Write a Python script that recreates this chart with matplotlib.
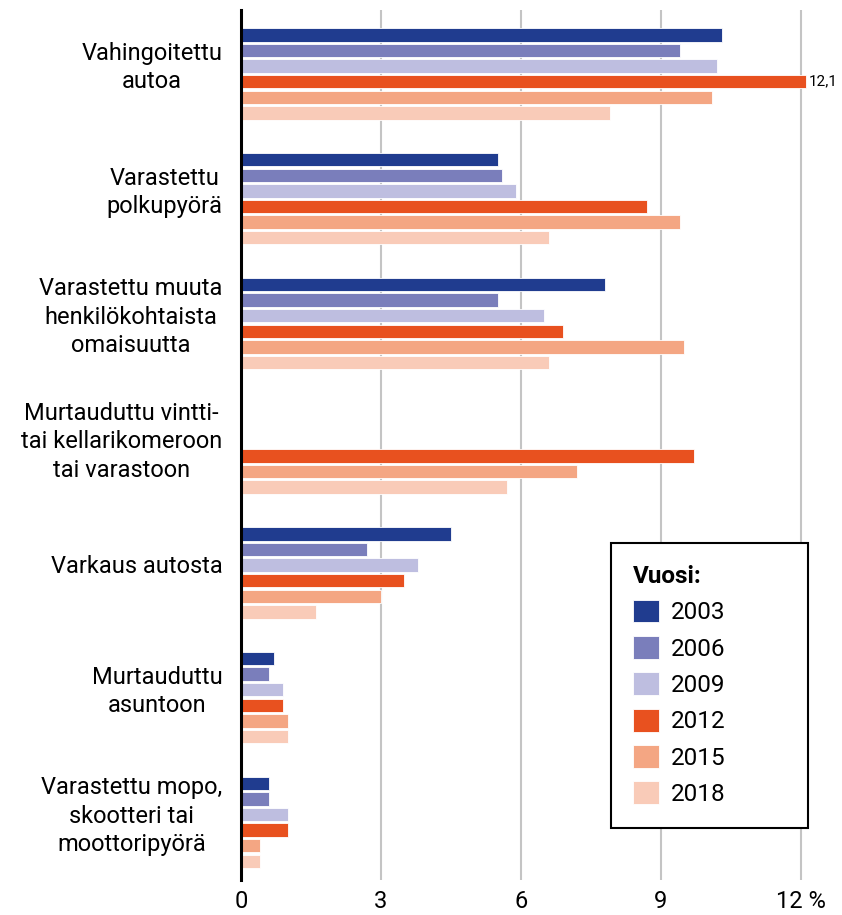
"""
Rikosuhrikokemukset vuosittain: vaakapylväskuvio.
"""
import numpy as np
import matplotlib.pyplot as plt
from matplotlib.patches import Patch
from matplotlib.transforms import blended_transform_factory

plt.rcParams['font.family'] = ['Roboto', 'DejaVu Sans']

# Data (%)
categories = [
    'Vahingoitettu\nautoa',
    'Varastettu\npolkupyörä',
    'Varastettu muuta\nhenkilökohtaista\nomaisuutta',
    'Murtauduttu vintti-\ntai kellarikomeroon\ntai varastoon',
    'Varkaus autosta',
    'Murtauduttu\nasuntoon',
    'Varastettu mopo,\nskootteri tai\nmoottoripyörä',
]
years = ['2003', '2006', '2009', '2012', '2015', '2018']
v2003 = [10.3, 5.5, 7.8, np.nan, 4.5, 0.7, 0.6]
v2006 = [9.4, 5.6, 5.5, np.nan, 2.7, 0.6, 0.6]
v2009 = [10.2, 5.9, 6.5, np.nan, 3.8, 0.9, 1.0]
v2012 = [12.1, 8.7, 6.9, 9.7, 3.5, 0.9, 1.0]
v2015 = [10.1, 9.4, 9.5, 7.2, 3.0, 1.0, 0.4]
v2018 = [7.9, 6.6, 6.6, 5.7, 1.6, 1.0, 0.4]
series = [v2003, v2006, v2009, v2012, v2015, v2018]
xticks = [0, 3, 6, 9, 12]
xticklabels = ['0', '3', '6', '9', '12 %']

colors = ['#203c8f', '#7a7ebb', '#bebee0', '#e8511f', '#f4a683', '#f9cbb8']

fig = plt.figure(figsize=(8.42, 9.15), dpi=100)
ax = fig.add_axes([0.2862, 0.0383, 0.9596 - 0.2862, 0.989 - 0.0383])

group_pitch = 8
n_groups = len(categories)
for j, (vals, col) in enumerate(zip(series, colors)):
    ypos = np.arange(n_groups) * group_pitch + j
    ax.barh(ypos, vals, height=0.86, color=col, edgecolor='white',
            linewidth=0.6, zorder=2)

# value label for the bar over the axis limit
ax.text(v2012[0] + 0.07, 3, '12,1', va='center', ha='left', fontsize=11)

ax.set_xlim(0, 12.15)
ax.set_ylim(n_groups * group_pitch - 8 + 5 + 1.2, -1.6)

ax.set_xticks(xticks)
ax.set_xticklabels(xticklabels, fontsize=17)
ax.tick_params(axis='x', length=0, pad=7)
ax.set_yticks([])
ax.grid(True, axis='x', color='#c4c4c4', linewidth=1.5, zorder=0)
ax.set_axisbelow(True)
for side in ['top', 'right', 'bottom']:
    ax.spines[side].set_visible(False)
ax.spines['left'].set_linewidth(2.2)
ax.spines['left'].set_color('black')
ax.spines['left'].set_zorder(3)

trans = blended_transform_factory(ax.transAxes, ax.transData)
for i, label in enumerate(categories):
    ax.text(-0.033, i * group_pitch + 2.1, label, transform=trans,
            ha='right', va='center', multialignment='center',
            fontsize=17, linespacing=1.3)

handles = [Patch(facecolor=c, edgecolor='white', linewidth=0.6) for c in colors]
leg = ax.legend(handles, years, title='Vuosi:', loc='upper left',
                bbox_to_anchor=(611 / 842, 1 - 825 / 915, 197 / 842, 282 / 915),
                bbox_transform=fig.transFigure, mode='expand', borderaxespad=0,
                fontsize=17.5,
                title_fontproperties={'weight': 'bold', 'size': 17.5},
                alignment='left', handlelength=1.07, handleheight=1.07,
                handletextpad=0.5, labelspacing=0.48, borderpad=0.9,
                fancybox=False, framealpha=1, edgecolor='black')
leg.get_frame().set_linewidth(1.5)

fig.savefig('out.png', dpi=100)
